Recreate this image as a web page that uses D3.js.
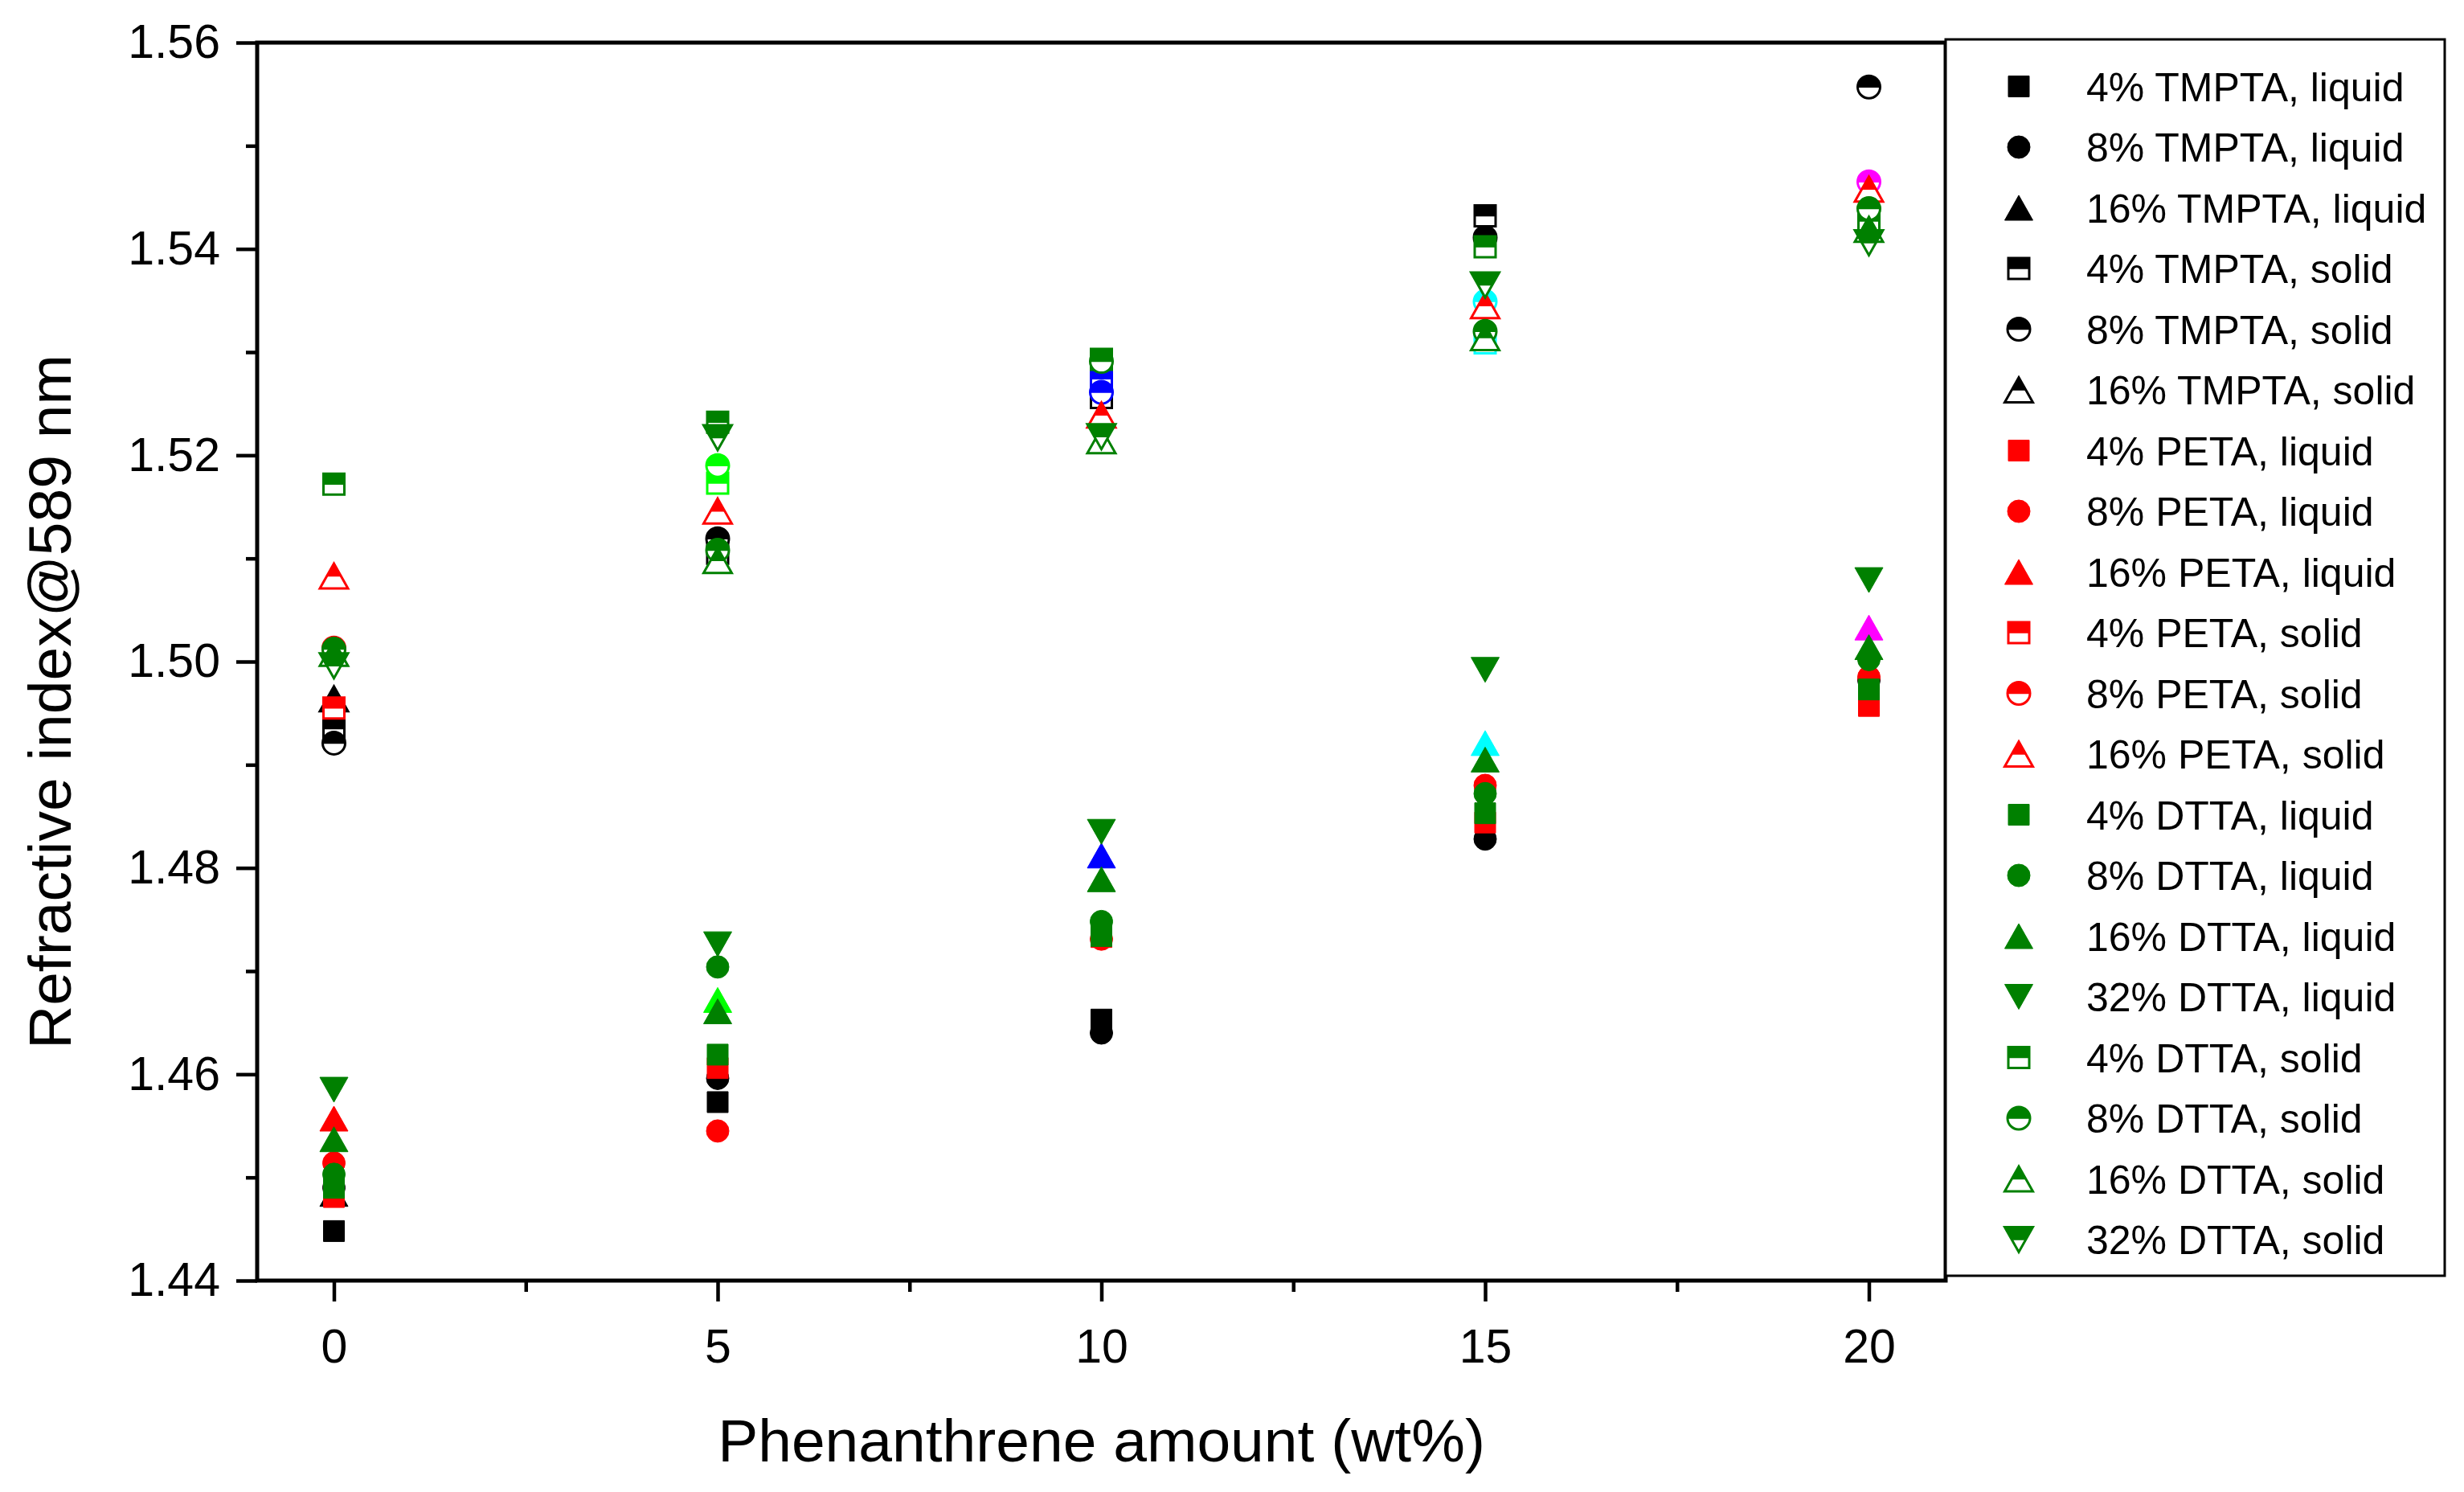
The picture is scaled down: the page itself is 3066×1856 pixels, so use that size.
<!DOCTYPE html>
<html>
<head>
<meta charset="utf-8">
<script src="https://cdn.jsdelivr.net/npm/d3@7"></script>
<style>
	body{margin:0;background:#fff}
	svg{display:block}
	text{font-family:"Liberation Sans", Arial, sans-serif}
</style>
</head>
<body>
<svg id="chart" width="3066" height="1856"></svg>
<script>
// phenanthrene loading (wt%) on the x axis
const phenWt = [0, 5, 10, 15, 20]
const xMajorTicks = [0, 5, 10, 15, 20]
const xMinorTicks = [2.5, 7.5, 12.5, 17.5]
const yMajorTicks = [1.44, 1.46, 1.48, 1.50, 1.52, 1.54, 1.56]
const yMinorTicks = [1.45, 1.47, 1.49, 1.51, 1.53, 1.55]

const seriesNames = [
	"4% TMPTA, liquid", "8% TMPTA, liquid", "16% TMPTA, liquid",
	"4% TMPTA, solid", "8% TMPTA, solid", "16% TMPTA, solid",
	"4% PETA, liquid", "8% PETA, liquid", "16% PETA, liquid",
	"4% PETA, solid", "8% PETA, solid", "16% PETA, solid",
	"4% DTTA, liquid", "8% DTTA, liquid", "16% DTTA, liquid", "32% DTTA, liquid",
	"4% DTTA, solid", "8% DTTA, solid", "16% DTTA, solid", "32% DTTA, solid"
]
const seriesShapes = [
	"square", "circle", "up", "square", "circle", "up",
	"square", "circle", "up", "square", "circle", "up",
	"square", "circle", "up", "down", "square", "circle", "up", "down"
]
const seriesFill = [
	"full", "full", "full", "half", "half", "half",
	"full", "full", "full", "half", "half", "half",
	"full", "full", "full", "full", "half", "half", "half", "half"
]
const seriesColors = [
	"#000000", "#000000", "#000000", "#000000", "#000000", "#000000",
	"#ff0000", "#ff0000", "#ff0000", "#ff0000", "#ff0000", "#ff0000",
	"#008000", "#008000", "#008000", "#008000", "#008000", "#008000", "#008000", "#008000"
]
// refractive index @589 nm, one value per phenWt entry (null = not measured / not visible)
const seriesValues = [
	[1.4448, 1.4573, 1.4653, null, null],
	[1.4490, 1.4596, 1.4640, 1.4828, 1.4982],
	[1.4484, null, null, null, null],
	[1.4935, 1.5105, 1.5256, 1.5432, null],
	[1.4921, 1.5119, null, 1.5411, 1.5557],
	[1.4964, null, null, null, null],
	[1.4481, 1.4606, 1.4733, 1.4844, 1.4957],
	[1.4514, 1.4545, 1.4731, 1.4880, 1.4985],
	[1.4557, null, null, null, null],
	[1.4955, null, null, null, null],
	[1.5013, null, null, null, null],
	[1.5083, 1.5146, 1.5239, 1.5345, 1.5458],
	[1.4490, 1.4619, 1.4734, 1.4853, 1.4973],
	[1.4503, 1.4704, 1.4748, 1.4872, 1.5002],
	[1.4537, 1.4661, 1.4789, 1.4905, 1.5014],
	[1.4585, 1.4726, 1.4835, 1.4992, 1.5079],
	[1.5172, 1.5232, 1.5293, 1.5402, 1.5427],
	[1.5012, 1.5108, 1.5291, 1.5320, 1.5439],
	[1.5008, 1.5098, 1.5214, 1.5314, 1.5419],
	[1.4996, 1.5217, 1.5218, 1.5365, 1.5406]
]

// extra points with no legend entry (one colour per loading)
const extraX = [5, 10, 15, 20]
const extraColors = ["#00ff00", "#0000ff", "#00ffff", "#ff00ff"]
const extraHalfSquare = [1.5173, 1.5274, 1.5309, null]
const extraHalfCircle = [1.5190, 1.5261, 1.5349, 1.5465]
const extraTriangle = [1.4672, 1.4812, 1.4921, 1.5033]

const svg = d3.select("#chart")
const plot = {left: 320, right: 2421, top: 53, bottom: 1593}

const x = d3.scaleLinear().domain([-1, 21]).range([plot.left, plot.right])
const y = d3.scaleLinear().domain([1.44, 1.56]).range([plot.bottom, plot.top])

// marker geometry
const SQ = 13, CR = 14, TW = 17.5, TH = 31
function fullPath(shape){
	if(shape==="square") return `M${-SQ},${-SQ}H${SQ}V${SQ}H${-SQ}Z`
	if(shape==="circle") return `M${-CR},0A${CR},${CR} 0 1 1 ${CR},0A${CR},${CR} 0 1 1 ${-CR},0Z`
	if(shape==="up") return `M0,${-TH/2}L${TW},${TH/2}L${-TW},${TH/2}Z`
	return `M${-TW},${-TH/2}L${TW},${-TH/2}L0,${TH/2}Z`
}
function topHalfPath(shape){
	if(shape==="square") return `M${-SQ},${-SQ}H${SQ}V0H${-SQ}Z`
	if(shape==="circle") return `M${-CR},0A${CR},${CR} 0 0 1 ${CR},0Z`
	if(shape==="up") return `M0,${-TH/2}L${TW/2},0L${-TW/2},0Z`
	return `M${-TW},${-TH/2}L${TW},${-TH/2}L${TW/2},0L${-TW/2},0Z`
}
function drawMarker(g, shape, fill, color, px, py){
	let m = g.append("g").attr("transform", `translate(${px},${py})`)
	if(fill==="full"){
		m.append("path").attr("d", fullPath(shape)).attr("fill", color)
		 .attr("stroke", color).attr("stroke-width", 1)
	}
	else{
		m.append("path").attr("d", fullPath(shape)).attr("fill", "#fff")
		 .attr("stroke", color).attr("stroke-width", 3)
		m.append("path").attr("d", topHalfPath(shape)).attr("fill", color)
		 .attr("stroke", color).attr("stroke-width", 1.5)
	}
}

// axes
const axisG = svg.append("g")
const xMajor = axisG.append("g").attr("transform", `translate(0,${plot.bottom})`)
	.call(d3.axisBottom(x).tickValues(xMajorTicks).tickSize(26).tickPadding(34).tickSizeOuter(0).tickFormat(d3.format("d")))
const xMinor = axisG.append("g").attr("transform", `translate(0,${plot.bottom})`)
	.call(d3.axisBottom(x).tickValues(xMinorTicks).tickSize(14).tickSizeOuter(0).tickFormat(""))
const yMajor = axisG.append("g").attr("transform", `translate(${plot.left},0)`)
	.call(d3.axisLeft(y).tickValues(yMajorTicks).tickSize(26).tickPadding(20).tickSizeOuter(0).tickFormat(d3.format(".2f")))
const yMinor = axisG.append("g").attr("transform", `translate(${plot.left},0)`)
	.call(d3.axisLeft(y).tickValues(yMinorTicks).tickSize(14).tickSizeOuter(0).tickFormat(""))

axisG.selectAll(".domain").remove()
axisG.selectAll(".tick line").attr("stroke", "#000").attr("stroke-width", 4.5)
axisG.selectAll(".tick text").attr("fill", "#000").style("font-size", "59px")
	.style("font-family", '"Liberation Sans", Arial, sans-serif')

// frame
svg.append("rect")
	.attr("x", plot.left).attr("y", plot.top)
	.attr("width", plot.right-plot.left).attr("height", plot.bottom-plot.top)
	.attr("fill", "none").attr("stroke", "#000").attr("stroke-width", 5)

// axis titles
svg.append("text")
	.attr("x", (plot.left+plot.right)/2).attr("y", 1818)
	.attr("text-anchor", "middle").style("font-size", "75px")
	.text("Phenanthrene amount (wt%)")
svg.append("text")
	.attr("transform", "translate(88,873) rotate(-90)")
	.attr("text-anchor", "middle").style("font-size", "75px")
	.text("Refractive index@589 nm")

// points
const pts = svg.append("g")
function drawSeries(i){
	phenWt.forEach((xv, j)=>{
		let v = seriesValues[i][j]
		if(v==null) return
		drawMarker(pts, seriesShapes[i], seriesFill[i], seriesColors[i], x(xv), y(v))
	})
}
for(let i=0;i<6;i++) drawSeries(i)
extraX.forEach((xv, j)=>{
	if(extraHalfSquare[j]!=null) drawMarker(pts, "square", "half", extraColors[j], x(xv), y(extraHalfSquare[j]))
	if(extraHalfCircle[j]!=null) drawMarker(pts, "circle", "half", extraColors[j], x(xv), y(extraHalfCircle[j]))
	if(extraTriangle[j]!=null) drawMarker(pts, "up", "full", extraColors[j], x(xv), y(extraTriangle[j]))
})
for(let i=6;i<seriesNames.length;i++) drawSeries(i)

// legend
const legend = svg.append("g")
legend.append("rect")
	.attr("x", 2421).attr("y", 49).attr("width", 621).attr("height", 1538)
	.attr("fill", "#fff").attr("stroke", "#000").attr("stroke-width", 3)
const rowY = d3.scaleLinear().domain([0, seriesNames.length-1]).range([107.5, 1542])
seriesNames.forEach((name, i)=>{
	let ry = rowY(i)
	drawMarker(legend, seriesShapes[i], seriesFill[i], seriesColors[i], 2512, ry)
	legend.append("text")
		.attr("x", 2596).attr("y", ry+18)
		.style("font-size", "50px")
		.text(name)
})
</script>
</body>
</html>
